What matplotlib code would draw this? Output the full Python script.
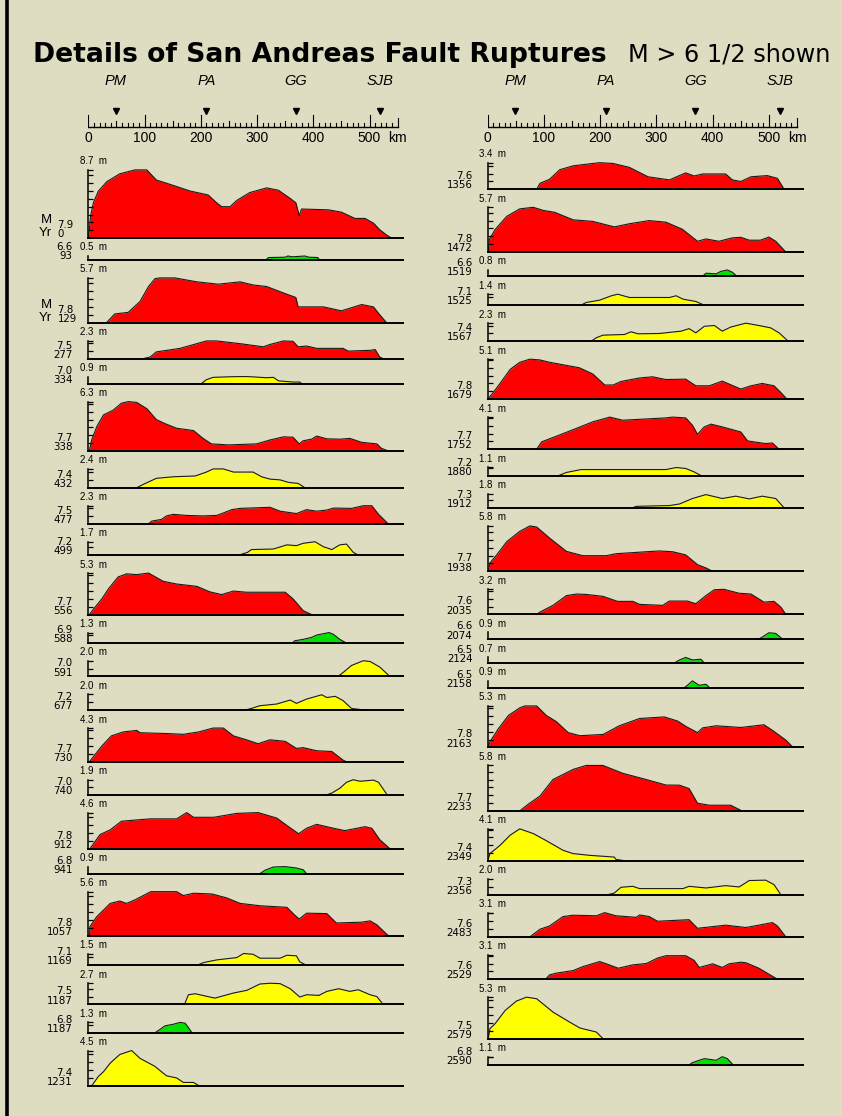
import matplotlib
matplotlib.use('Agg')
import matplotlib.pyplot as plt
from matplotlib import font_manager as fm
from matplotlib.font_manager import FontProperties
from matplotlib.lines import Line2D

# ---------------- data ----------------
stations = ['PM', 'PA', 'GG', 'SJB']
station_km = [49, 210, 369, 519]
ruler_labels = [0, 100, 200, 300, 400, 500]

left_max = [8.7, 0.5, 5.7, 2.3, 0.9, 6.3, 2.4, 2.3, 1.7, 5.3, 1.3, 2.0, 2.0, 4.3, 1.9, 4.6, 0.9, 5.6, 1.5, 2.7, 1.3, 4.5]
left_mag = ['7.9', '6.6', '7.8', '7.5', '7.0', '7.7', '7.4', '7.5', '7.2', '7.7', '6.9', '7.0', '7.2', '7.7', '7.0', '7.8', '6.8', '7.8', '7.1', '7.5', '6.8', '7.4']
left_year = ['0', '93', '129', '277', '334', '338', '432', '477', '499', '556', '588', '591', '677', '730', '740', '912', '941', '1057', '1169', '1187', '1187', '1231']
left_color = ['r', 'g', 'r', 'r', 'y', 'r', 'y', 'r', 'y', 'r', 'g', 'y', 'y', 'r', 'y', 'r', 'g', 'r', 'y', 'y', 'g', 'y']
left_km = [
    [0, 1.8, 4, 9, 18, 33, 56, 83, 104, 121, 139, 181, 213, 228, 237, 252, 264, 287, 317, 338, 358, 369, 375, 379, 427, 450, 474, 492, 507, 518, 530, 539],
    [316, 320, 350, 355, 362, 375, 385, 392, 408, 411],
    [32.6, 47, 71, 92, 107, 118.5, 127, 154, 193, 231, 270, 293, 317, 350, 369, 373, 418, 450, 486, 507, 518, 530],
    [98, 110, 121, 163, 210, 228, 270, 311, 323, 347, 364, 373, 388, 406, 453, 462, 501, 510, 518, 524],
    [201, 210, 222, 255, 276, 288, 317, 329, 338, 364, 376, 379],
    [1.8, 6, 15, 27, 44, 59, 71, 86, 104, 121, 136, 157, 187, 204, 219, 249, 299, 323, 347, 364, 375, 382, 397, 406, 424, 447, 465, 486, 513, 521, 533],
    [86, 99, 121, 151, 190, 210, 222, 240, 258, 293, 308, 323, 341, 356, 373, 385],
    [107, 113, 130, 139, 151, 175, 204, 228, 241, 255, 270, 323, 341, 370, 388, 406, 424, 436, 468, 489, 504, 516, 533],
    [268, 283, 290, 329, 353, 370, 382, 403, 418, 433, 447, 459, 471, 480],
    [1.8, 12, 24, 36, 53, 68, 86, 107, 133, 157, 193, 216, 237, 258, 281, 350, 364, 382, 397],
    [363, 367, 382, 397, 406, 428, 436, 447, 458],
    [444, 454, 468, 489, 501, 518, 536],
    [279, 292, 305, 335, 359, 370, 388, 415, 424, 439, 453, 468, 492],
    [2, 24, 41, 62, 86, 92, 139, 169, 196, 222, 240, 258, 281, 302, 323, 350, 370, 382, 406, 433, 453, 459],
    [425, 433, 447, 459, 471, 483, 507, 516, 530, 531],
    [3, 21, 39, 59, 110, 157, 175, 187, 223, 264, 302, 335, 356, 374, 388, 406, 436, 456, 492, 504, 518, 536],
    [305, 314, 329, 350, 370, 382, 388],
    [2, 3, 15, 39, 56, 68, 83, 111, 157, 169, 187, 220, 246, 270, 305, 353, 367, 375, 388, 424, 441, 486, 501, 513, 533],
    [193, 205, 228, 264, 276, 293, 305, 341, 353, 370, 376, 388],
    [171, 178, 190, 225, 258, 282, 305, 323, 341, 359, 376, 388, 410, 424, 445, 465, 480, 501, 513, 524],
    [119, 128, 136, 151, 163, 172, 178, 184],
    [6, 18, 27, 39, 56, 77, 92, 118, 139, 157, 169, 187, 197],
]
left_slip = [
    [0, 1.06, 2.8, 4.5, 6.0, 7.2, 8.2, 8.7, 8.7, 7.4, 7.0, 6.0, 5.5, 4.5, 4.0, 4.0, 4.8, 5.8, 6.4, 6.1, 5.1, 4.5, 2.85, 3.7, 3.6, 3.3, 2.5, 2.5, 1.9, 1.06, 0.4, 0],
    [0, 0.3, 0.35, 0.5, 0.4, 0.45, 0.5, 0.35, 0.3, 0],
    [0, 1.1, 1.3, 2.7, 4.6, 5.6, 5.7, 5.7, 5.2, 4.9, 5.2, 4.8, 4.6, 3.7, 3.2, 2.0, 2.0, 1.5, 2.3, 2.0, 1.0, 0],
    [0, 0.2, 0.85, 1.3, 2.25, 2.25, 1.9, 1.5, 1.8, 2.25, 2.2, 1.5, 1.6, 1.3, 1.3, 0.95, 1.05, 1.15, 0.2, 0],
    [0, 0.5, 0.8, 0.88, 0.9, 0.88, 0.75, 0.8, 0.35, 0.2, 0.2, 0],
    [0, 1.4, 3.1, 4.6, 5.2, 6.1, 6.3, 6.2, 5.4, 4.0, 3.5, 2.9, 2.6, 1.6, 0.9, 0.77, 0.9, 1.4, 1.8, 1.75, 0.9, 1.3, 1.5, 1.9, 1.55, 1.5, 1.6, 1.1, 0.9, 0.34, 0],
    [0, 0.47, 1.2, 1.4, 1.5, 2.0, 2.4, 2.4, 2.0, 2.0, 1.4, 1.1, 1.0, 0.68, 0.55, 0],
    [0, 0.34, 0.55, 1.0, 1.2, 1.06, 1.0, 1.06, 1.4, 1.8, 1.96, 2.1, 1.6, 1.3, 1.8, 1.6, 1.75, 2.0, 1.96, 2.3, 2.3, 1.2, 0],
    [0, 0.34, 0.7, 0.77, 1.3, 1.2, 1.5, 1.7, 1.06, 0.7, 1.3, 1.4, 0.34, 0],
    [0, 0.94, 2.0, 3.3, 4.8, 5.2, 5.1, 5.3, 4.25, 3.9, 3.6, 2.9, 2.55, 3.0, 2.85, 2.85, 2.0, 0.5, 0],
    [0, 0.25, 0.43, 0.68, 0.98, 1.3, 1.06, 0.43, 0],
    [0, 0.55, 1.4, 2.0, 1.9, 1.2, 0],
    [0, 0.25, 0.55, 0.77, 1.28, 0.85, 1.4, 1.95, 1.6, 1.75, 1.2, 0.2, 0],
    [0, 2.0, 3.3, 3.8, 4.0, 3.7, 3.6, 3.5, 3.8, 4.3, 4.3, 3.3, 2.8, 2.3, 2.8, 2.6, 1.7, 1.8, 1.4, 1.3, 0.2, 0],
    [0, 0.2, 0.8, 1.57, 1.9, 1.7, 1.85, 1.57, 0.1, 0],
    [0, 1.8, 2.4, 3.5, 3.8, 3.8, 4.6, 4.0, 4.0, 4.5, 4.6, 3.9, 2.8, 1.9, 2.6, 3.1, 2.6, 2.3, 2.8, 2.6, 1.15, 0],
    [0, 0.43, 0.85, 0.9, 0.72, 0.5, 0],
    [0, 1.15, 2.4, 4.1, 4.4, 4.1, 4.55, 5.6, 5.6, 5.1, 5.4, 5.3, 4.8, 4.1, 3.8, 3.6, 2.6, 2.1, 2.85, 2.8, 1.6, 1.7, 1.87, 1.36, 0],
    [0, 0.34, 0.68, 0.98, 1.5, 1.4, 0.9, 0.9, 1.28, 1.2, 0.43, 0],
    [0, 1.23, 1.36, 0.8, 1.45, 1.8, 2.6, 2.7, 2.65, 2.0, 0.94, 1.23, 1.15, 1.66, 2.0, 1.66, 1.87, 1.23, 1.0, 0],
    [0, 0.43, 0.85, 1.06, 1.3, 1.2, 0.64, 0],
    [0, 1.2, 1.8, 2.9, 4.0, 4.5, 3.5, 2.5, 1.28, 1.0, 0.43, 0.43, 0],
]

right_max = [3.4, 5.7, 0.8, 1.4, 2.3, 5.1, 4.1, 1.1, 1.8, 5.8, 3.2, 0.9, 0.7, 0.9, 5.3, 5.8, 4.1, 2.0, 3.1, 3.1, 5.3, 1.1]
right_mag = ['7.6', '7.8', '6.6', '7.1', '7.4', '7.8', '7.7', '7.2', '7.3', '7.7', '7.6', '6.6', '6.5', '6.5', '7.8', '7.7', '7.4', '7.3', '7.6', '7.6', '7.5', '6.8']
right_year = ['1356', '1472', '1519', '1525', '1567', '1679', '1752', '1880', '1912', '1938', '2035', '2074', '2124', '2158', '2163', '2233', '2349', '2356', '2483', '2529', '2579', '2590']
right_color = ['r', 'r', 'g', 'y', 'y', 'r', 'r', 'y', 'y', 'r', 'r', 'g', 'g', 'g', 'r', 'r', 'y', 'y', 'r', 'r', 'y', 'g']
right_km = [
    [87, 93, 110, 128, 152, 175, 199, 223, 252, 285, 323, 352, 367, 382, 423, 435, 450, 468, 497, 515, 527],
    [1, 3, 13, 34, 57, 81, 99, 119, 152, 187, 225, 252, 287, 317, 346, 373, 388, 411, 435, 450, 465, 485, 500, 512, 530],
    [382, 388, 406, 414, 426, 435, 443],
    [166, 175, 199, 220, 231, 252, 323, 335, 347, 370, 385],
    [184, 193, 205, 243, 255, 267, 305, 344, 358, 370, 385, 403, 417, 432, 459, 482, 503, 518, 534],
    [0, 10, 25, 40, 57, 75, 93, 110, 163, 187, 208, 223, 237, 270, 293, 317, 352, 370, 394, 417, 450, 468, 488, 509, 521, 532],
    [87, 96, 122, 152, 187, 217, 240, 317, 329, 352, 364, 373, 385, 397, 417, 450, 462, 494, 506, 518],
    [125, 140, 166, 317, 335, 352, 367, 380],
    [257, 264, 323, 341, 364, 388, 417, 441, 465, 488, 512, 527],
    [1, 4, 16, 34, 57, 75, 87, 110, 140, 169, 211, 228, 282, 305, 329, 352, 373, 388, 400],
    [87, 93, 116, 140, 158, 175, 205, 231, 258, 270, 311, 323, 355, 370, 388, 403, 420, 447, 468, 491, 509, 521, 530],
    [481, 488, 500, 512, 525],
    [332, 341, 352, 364, 379, 385],
    [349, 355, 364, 376, 388, 395],
    [0, 4, 19, 37, 57, 66, 87, 104, 122, 143, 164, 205, 234, 270, 314, 338, 352, 373, 382, 406, 450, 491, 506, 530, 543],
    [57, 72, 93, 116, 152, 175, 205, 240, 282, 317, 341, 358, 373, 394, 432, 452],
    [0, 4, 22, 40, 57, 81, 104, 134, 152, 181, 225, 228, 246],
    [214, 225, 237, 258, 270, 347, 358, 388, 423, 447, 465, 494, 509, 521],
    [75, 93, 110, 134, 152, 193, 208, 228, 264, 270, 287, 302, 358, 373, 423, 459, 482, 506, 515, 530],
    [103, 110, 122, 152, 169, 199, 211, 232, 258, 282, 302, 317, 352, 367, 376, 400, 417, 429, 450, 459, 482, 515],
    [1, 4, 13, 31, 51, 69, 87, 116, 146, 164, 193, 205],
    [357, 364, 385, 406, 417, 426, 437],
]
right_slip = [
    [0, 0.77, 1.28, 2.5, 3.0, 3.2, 3.4, 3.3, 2.8, 1.6, 1.2, 2.1, 1.7, 1.96, 1.96, 1.2, 1.0, 1.6, 1.75, 1.4, 0],
    [0, 1.6, 2.85, 4.55, 5.5, 5.7, 5.3, 5.06, 4.1, 3.9, 3.2, 3.6, 4.0, 3.8, 2.9, 1.36, 1.66, 1.36, 1.8, 1.87, 1.5, 1.5, 1.9, 1.36, 0],
    [0, 0.38, 0.3, 0.6, 0.8, 0.5, 0],
    [0, 0.34, 0.64, 1.2, 1.4, 0.98, 0.98, 1.2, 0.77, 0.47, 0],
    [0, 0.43, 0.77, 0.85, 1.2, 0.94, 0.98, 1.28, 1.6, 1.06, 1.9, 2.0, 1.28, 1.8, 2.3, 2.0, 1.7, 1.06, 0],
    [0, 0.85, 2.3, 3.8, 4.7, 5.1, 5.0, 4.7, 4.0, 3.2, 1.8, 1.8, 2.25, 2.7, 2.85, 2.5, 2.55, 1.7, 1.7, 2.3, 1.28, 1.7, 2.0, 1.7, 0.85, 0],
    [0, 0.94, 1.66, 2.5, 3.5, 4.1, 3.7, 4.0, 4.1, 4.0, 3.06, 1.9, 2.85, 3.2, 2.85, 2.2, 1.06, 0.72, 0.8, 0],
    [0, 0.43, 0.8, 0.8, 1.06, 0.94, 0.5, 0],
    [0, 0.2, 0.3, 0.5, 1.2, 1.7, 1.2, 1.5, 1.15, 1.5, 1.2, 0],
    [0, 1.06, 2.1, 3.8, 5.1, 5.8, 5.66, 4.25, 2.55, 2.0, 2.0, 2.25, 2.5, 2.6, 2.5, 2.1, 0.85, 0.43, 0],
    [0, 0.3, 1.15, 2.4, 2.6, 2.55, 2.3, 1.66, 1.66, 1.28, 1.15, 1.7, 1.7, 1.36, 2.4, 3.15, 3.2, 2.7, 2.6, 1.57, 1.66, 0.94, 0],
    [0, 0.3, 0.85, 0.77, 0],
    [0, 0.38, 0.7, 0.38, 0.47, 0],
    [0, 0.34, 0.9, 0.34, 0.47, 0],
    [0, 0.72, 2.4, 4.1, 5.06, 5.3, 5.3, 4.1, 3.3, 1.9, 1.5, 1.66, 2.77, 3.7, 3.9, 3.36, 2.7, 1.9, 2.5, 2.77, 2.55, 2.9, 2.2, 0.94, 0],
    [0, 0.85, 1.9, 4.0, 5.3, 5.8, 5.8, 4.8, 4.0, 3.3, 3.28, 2.85, 0.98, 0.72, 0.72, 0],
    [0, 0.94, 2.0, 3.3, 4.1, 3.5, 2.6, 1.36, 0.94, 0.72, 0.5, 0.2, 0],
    [0, 0.2, 0.94, 1.06, 0.77, 0.77, 1.06, 0.85, 1.15, 0.98, 1.8, 1.85, 1.28, 0],
    [0, 0.98, 1.4, 2.6, 2.77, 2.7, 3.1, 2.7, 2.5, 2.8, 2.6, 2.0, 2.2, 1.1, 1.5, 1.2, 1.5, 1.83, 1.4, 0],
    [0, 0.55, 0.77, 1.1, 1.6, 2.25, 1.96, 1.4, 1.83, 2.0, 2.7, 3.0, 3.0, 2.4, 1.5, 1.96, 1.5, 1.96, 2.17, 2.1, 1.4, 0],
    [0, 1.28, 1.9, 3.6, 4.8, 5.3, 5.1, 3.4, 2.1, 1.36, 0.85, 0],
    [0, 0.34, 0.85, 0.64, 1.1, 0.85, 0],
]

# ---------------- style / layout ----------------
W, H = 842, 1116
BG = '#dedcc1'
FILL = {'r': '#ff0000', 'y': '#ffff00', 'g': '#00e000'}
SC = 7.83        # px per metre of slip
GAP = 18.0       # px between panels
KM_PX = 0.5625   # px per km
XMAX = 560

names = {f.name for f in fm.fontManager.ttflist}
SANS = 'Liberation Sans' if 'Liberation Sans' in names else 'DejaVu Sans'
plt.rcParams['font.family'] = [SANS, 'DejaVu Sans']

# narrow font for the magnitude / year numbers, if one is installed
NUMPROP = None
for key, size in (('LiberationSansNarrow-Regular', 9.2), ('DejaVuSansCondensed.ttf', 8.2)):
    for f in fm.fontManager.ttflist:
        if key in f.fname:
            NUMPROP = FontProperties(fname=f.fname, size=size)
            break
    if NUMPROP is not None:
        break
if NUMPROP is None:
    NUMPROP = FontProperties(family=SANS, size=8.0)

fig = plt.figure(figsize=(W / 100, H / 100), dpi=100, facecolor=BG)


def fx(px):
    return px / W


def fy(py):
    return 1 - py / H


def draw_ruler(x0, ry):
    ax = fig.add_axes([fx(x0), fy(150), XMAX * KM_PX / W, 80 / H])
    ax.set_xlim(0, XMAX)
    ax.set_ylim(150, 70)
    ax.axis('off')
    ax.plot([0, 550], [ry, ry], color='black', lw=1.0)
    for k in range(0, 551, 10):
        if k % 100 == 0:
            h = 12
        elif k == 550:
            h = 9
        elif k % 50 == 0:
            h = 6
        else:
            h = 4
        ax.plot([k, k], [ry, ry - h], color='black', lw=0.8)
    for k in ruler_labels:
        ax.text(k, 138, str(k), ha='center', va='center', fontsize=10)
    ax.text(550, 138, 'km', ha='center', va='center', fontsize=10)
    ax.plot(station_km, [111] * len(station_km), 'v', color='black', ms=4.0)
    for k, n in zip(station_km, stations):
        ax.text(k, 81, n, ha='center', va='center', fontsize=10.5, style='italic')


def draw_column(x0, base0, maxs, mags, years, cols, kms, slips, lab_right, myr=()):
    base = base0
    for i in range(len(maxs)):
        m = maxs[i]
        if i > 0:
            base += GAP + m * SC
        h = m * SC
        ax = fig.add_axes([fx(x0), fy(base), XMAX * KM_PX / W, h / H])
        ax.set_xlim(0, XMAX)
        ax.set_ylim(0, m)
        ax.patch.set_visible(False)
        for s in ('top', 'right'):
            ax.spines[s].set_visible(False)
        ax.spines['bottom'].set_linewidth(1.4)
        ax.spines['left'].set_linewidth(1.1)
        ax.set_xticks([])
        ticks = [t for t in range(1, int(m) + 1)]
        if m >= 1 and m not in ticks:
            ticks.append(m)
        ax.set_yticks(ticks)
        ax.set_yticklabels([])
        ax.tick_params(axis='y', direction='in', length=3.8, width=0.9)
        ax.fill_between(kms[i], slips[i], 0, color=FILL[cols[i]], lw=0, zorder=1)
        ax.plot(kms[i], slips[i], color='#1a1a1a', lw=0.8, clip_on=False, zorder=2)
        top = base - h
        fig.text(fx(x0 - 8.5), fy(top - 5.5), f'{m:.1f}  m', fontsize=7,
                 ha='left', va='baseline')
        if i in myr:
            fig.text(fx(lab_right - 15), fy(base - 10), mags[i], fontproperties=NUMPROP,
                     ha='left', va='baseline')
            fig.text(fx(lab_right - 15), fy(base - 1), years[i], fontproperties=NUMPROP,
                     ha='left', va='baseline')
            fig.text(fx(lab_right - 21), fy(base - 15), 'M', fontsize=9.5,
                     ha='right', va='baseline')
            fig.text(fx(lab_right - 21), fy(base - 2), 'Yr', fontsize=9.5,
                     ha='right', va='baseline')
        else:
            fig.text(fx(lab_right), fy(base - 10), mags[i], fontproperties=NUMPROP,
                     ha='right', va='baseline')
            fig.text(fx(lab_right), fy(base - 0.8), years[i], fontproperties=NUMPROP,
                     ha='right', va='baseline')


# left border
fig.add_artist(Line2D([fx(7), fx(7)], [0, 1], color='black', lw=2.6,
                      transform=fig.transFigure))

# title, fitted to the reference widths
r = fig.canvas.get_renderer()
t1 = fig.text(fx(33), fy(61.7), 'Details of San Andreas Fault Ruptures',
              family='DejaVu Sans', fontweight='bold', fontsize=18, va='baseline')
w1 = t1.get_window_extent(r).width
t1.set_fontsize(18 * 574 / w1)
t2 = fig.text(fx(628), fy(61.7), 'M > 6 1/2 shown', family='DejaVu Sans',
              fontsize=14, va='baseline')
w2 = t2.get_window_extent(r).width
t2.set_fontsize(14 * 203 / w2)

draw_ruler(88.3, 127)
draw_ruler(487.7, 127)

draw_column(88.3, 238.0, left_max, left_mag, left_year, left_color,
            left_km, left_slip, 72.5, myr=(0, 2))
draw_column(487.7, 189.3, right_max, right_mag, right_year, right_color,
            right_km, right_slip, 472.5)

fig.savefig('out.png', dpi=100, facecolor=BG)
